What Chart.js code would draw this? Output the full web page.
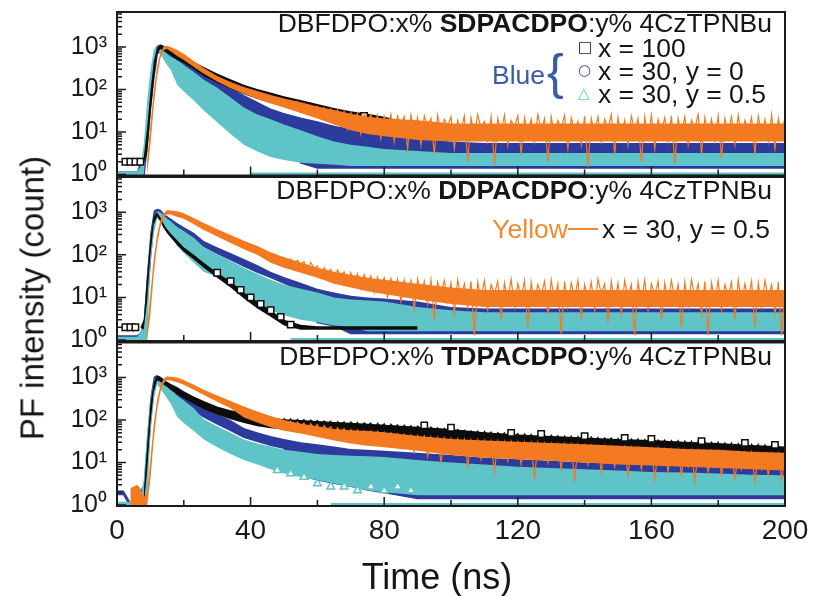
<!DOCTYPE html>
<html>
<head>
<meta charset="utf-8">
<script src="https://cdn.jsdelivr.net/npm/chart.js@4"></script>
<style>
  body { margin: 0; background: #fff; width: 817px; height: 596px; position: relative; overflow: hidden;
         font-family: "Liberation Sans", Arial, sans-serif; }
  canvas { position: absolute; left: 0; }
  .t { position: absolute; white-space: nowrap; font-size: 26.5px; line-height: 26px; color: #151515; }
  .sym { position: absolute; font-family: "DejaVu Sans", sans-serif; font-size: 15px; line-height: 15px; }
</style>
</head>
<body>
<canvas id="p1" width="817" height="190" style="top:0"></canvas>
<canvas id="p2" width="817" height="185" style="top:170px"></canvas>
<canvas id="p3" width="817" height="260" style="top:336px"></canvas>

<!-- panel 1 legend -->
<div class="t" style="right:45px;top:10px">DBFDPO:x% <b>SDPACDPO</b>:y% 4CzTPNBu</div>
<div class="sym" style="left:578px;top:40px;color:#111">□</div>
<div class="t" style="left:598px;top:35px">x = 100</div>
<div class="t" style="right:272px;top:62px;color:#3b5aa8">Blue</div>
<div class="t" style="left:547px;top:47px;font-size:50px;line-height:50px;color:#3b5aa8">{</div>
<div class="sym" style="left:578px;top:63px;color:#2c3b9c">○</div>
<div class="t" style="left:598px;top:58px">x = 30, y = 0</div>
<div class="sym" style="left:578px;top:86px;color:#5ec4c7">△</div>
<div class="t" style="left:598px;top:81px">x = 30, y = 0.5</div>

<!-- panel 2 legend -->
<div class="t" style="right:45px;top:177px">DBFDPO:x% <b>DDPACDPO</b>:y% 4CzTPNBu</div>
<div class="t" style="right:249px;top:216px;color:#f08a30">Yellow</div>
<div style="position:absolute;left:568px;top:228px;width:30px;height:2px;background:#f08a30"></div>
<div class="t" style="left:602px;top:216px">x = 30, y = 0.5</div>

<!-- panel 3 legend -->
<div class="t" style="right:45px;top:343px">DBFDPO:x% <b>TDPACDPO</b>:y% 4CzTPNBu</div>

<!-- axis titles -->
<div class="t" style="left:32px;top:298px;font-size:33px;line-height:33px;transform:translate(-50%,-50%) rotate(-90deg)">PF intensity (count)</div>
<div class="t" style="left:437px;top:577px;font-size:36px;line-height:36px;transform:translate(-50%,-50%)">Time (ns)</div>

<script>
/* ======================
   DATA
====================== */
// coarse envelope grid (ns)
const timeNs = [0, 2, 4, 6, 7, 8, 9, 10, 11, 12, 13, 14, 15, 16, 18, 20,
  23, 26, 30, 34, 38, 42, 46, 50, 55, 60, 65, 70, 75, 80,
  90, 100, 110, 120, 130, 140, 150, 160, 170, 180, 190, 200]

// 1 ns detector bins for the noisy tails, 50..200 ns
const tailNs = Array.from({ length: 151 }, (_, i) => 50 + i)

const xTickValues = [0, 40, 80, 120, 160, 200]
const yTickValues = [1, 10, 100, 1000]
const yTickLabels = ["10⁰", "10¹", "10²", "10³"]
const cyanFloorStartNs = [40, 52, 64]

/* ---------- panel 1: SDPACDPO ---------- */
const p1BlackHi = [2, 2, 2, 2, 2, 2.5, 12, 90, 450, 1000, 1150, 1080, 1000, 900, 750, 620,
  450, 340, 240, 175, 130, 103, 85, 70, 57, 46, 37, 31, 27, 23,
  15, 10, 8, 8, 8, 8, 8, 8, 8, 8, 8, 8]
const p1BlackLo = [2, 2, 2, 2, 2, 1.8, 3, 25, 150, 700, 900, 800, 720, 650, 500, 420,
  300, 210, 145, 105, 78, 60, 48, 40, 30, 24, 18, 15, 12, 9,
  7, 6.5, 6.5, 6.5, 6.5, 6.5, 6.5, 6.5, 6.5, 6.5, 6.5, 6.5]
const p1BlueHi = [1.2, 1.2, 1.2, 1.2, 2, 3, 25, 150, 600, 1100, 1150, 1000, 880, 800, 650, 520,
  380, 260, 160, 110, 75, 52, 36, 28, 22, 18, 14, 12, 10, 9,
  7, 6, 5.5, 5.5, 5.5, 5.5, 5.5, 5.5, 5.5, 5.5, 5.5, 5.5]
const p1BlueLo = [0.95, 0.95, 0.95, 0.95, 0.95, 0.95, 5, 40, 200, 700, 800, 650, 550, 480, 330, 250,
  160, 110, 70, 42, 23, 15, 11, 8, 1.9, 1.45, 1.45, 1.45, 1.45, 1.45,
  1.45, 1.45, 1.45, 1.45, 1.45, 1.45, 1.45, 1.45, 1.45, 1.45, 1.45, 1.45]
const p1CyanHi = [1.2, 1.2, 1.2, 1.2, 1.5, 5, 50, 280, 850, 1150, 1050, 850, 700, 600, 500, 380,
  260, 170, 110, 65, 38, 26, 20, 15, 11, 8, 6, 5, 4.5, 4,
  3.6, 3.2, 3.2, 3.2, 3.2, 3.2, 3.2, 3.2, 3.2, 3.2, 3.2, 3.2]
const p1CyanLo = [0.95, 0.95, 0.95, 0.95, 0.95, 0.95, 8, 60, 300, 900, 700, 500, 380, 300, 130, 90,
  55, 32, 17, 9, 5, 3.5, 2.6, 2.2, 1.9, 1.8, 1.7, 1.6, 1.6, 1.6,
  1.6, 1.6, 1.6, 1.6, 1.6, 1.6, 1.6, 1.6, 1.6, 1.6, 1.6, 1.6]
const p1OrangeHi = [null, null, null, null, null, null, 2, 15, 90, 350, 750, 1050, 1080, 1000, 850, 700,
  470, 320, 210, 150, 115, 92, 75, 62, 50, 40, 33, 27, 23, 21,
  19, 16, 16, 16, 16, 16, 16, 16, 16, 16, 16, 16]
const p1OrangeLo = [null, null, null, null, null, null, 0.95, 5, 40, 200, 550, 850, 900, 800, 620, 500,
  340, 235, 155, 108, 80, 60, 47, 38, 28, 21, 15, 11, 9, 8,
  6.5, 6, 6, 6, 6, 6, 6, 6, 6, 6, 6, 6]
const p1OrangeNoise = [
  55, 38, 50, 34, 52, 30, 46, 28, 42, 33,
  40, 22, 37, 28, 35, 16, 33, 22, 31, 12,
  29, 17, 28, 9, 27, 18, 26, 13, 25, 7,
  24, 12, 26, 6, 24, 15, 23, 4, 25, 10,
  22, 5, 24, 13, 21, 3, 25, 9, 20, 14,
  23, 4, 19, 11, 24, 2, 22, 8, 26, 12,
  18, 6, 23, 1.6, 21, 10, 25, 5, 19, 13,
  24, 3, 22, 9, 20, 6, 26, 11, 21, 2,
  23, 8, 19, 12, 25, 4, 22, 10, 18, 5,
  24, 1.5, 21, 9, 23, 6, 20, 12, 26, 3,
  22, 8, 19, 5, 24, 11, 21, 2, 23, 7,
  25, 4, 20, 10, 22, 6, 24, 1.8, 21, 9,
  23, 5, 19, 12, 26, 3, 22, 8, 20, 6,
  24, 2.5, 21, 10, 23, 5, 25, 7, 19, 11,
  22, 3, 24, 9, 20, 6, 26, 4, 21, 8,
  23]
const p1BlackMarkNs = [2.5, 4, 5.5, 7, 74]
const p1BlackMarkVal = [2, 2, 2, 2, 24]

/* ---------- panel 2: DDPACDPO ---------- */
const p2BlackHi = [2, 2, 2, 2, 2, 3, 30, 250, 800, 1000, 750, 520, 400, 320, 220, 150,
  100, 65, 38, 24, 13, 8, 5, 3, 2.3, 2.1, 2.1, 2.1, 2.1, 2.1,
  2.1, null, null, null, null, null, null, null, null, null, null, null]
const p2BlackLo = [2, 2, 2, 2, 2, 1.75, 8, 100, 500, 800, 600, 420, 320, 260, 170, 118,
  78, 50, 29, 17, 9.5, 5.5, 3.5, 2.2, 1.75, 1.75, 1.75, 1.75, 1.75, 1.75,
  1.75, null, null, null, null, null, null, null, null, null, null, null]
const p2BlueHi = [1.3, 1.3, 1.3, 1.3, 1.5, 3, 40, 350, 1100, 1200, 1150, 950, 820, 720, 560, 450,
  330, 210, 150, 110, 80, 58, 40, 30, 22, 16, 13, 11, 10, 9.5,
  8, 6, 5.5, 5.5, 5.5, 5.5, 5.5, 5.5, 5.5, 5.5, 5.5, 5.5]
const p2BlueLo = [0.95, 0.95, 0.95, 0.95, 0.95, 0.95, 8, 100, 600, 900, 850, 700, 600, 520, 400, 320,
  220, 160, 110, 78, 55, 40, 30, 22, 15, 2.6, 2.2, 1.45, 1.45, 1.45,
  1.45, 1.45, 1.45, 1.45, 1.45, 1.45, 1.45, 1.45, 1.45, 1.45, 1.45, 1.45]
const p2CyanHi = [1.2, 1.2, 1.2, 1.2, 1.5, 2.5, 25, 250, 800, 1050, 1000, 850, 700, 620, 450, 360,
  250, 150, 105, 72, 50, 36, 26, 20, 16, 13, 10, 9, 8.5, 8,
  6, 5, 4.5, 4.5, 4.5, 4.5, 4.5, 4.5, 4.5, 4.5, 4.5, 4.5]
const p2CyanLo = [0.95, 0.95, 0.95, 0.95, 0.95, 0.95, 0.95, 60, 300, 700, 650, 480, 380, 300, 160, 110,
  65, 40, 30, 20, 12, 8, 5, 3.8, 3, 2.6, 2.2, 2, 1.6, 1.6,
  1.6, 1.6, 1.6, 1.6, 1.6, 1.6, 1.6, 1.6, 1.6, 1.6, 1.6, 1.6]
const p2OrangeHi = [null, null, null, null, null, null, 2, 12, 80, 300, 650, 950, 1120, 1100, 1050, 950,
  730, 560, 400, 290, 215, 160, 115, 88, 66, 50, 40, 34, 29, 26,
  21, 17, 15, 15, 15, 15, 15, 15, 15, 15, 15, 15]
const p2OrangeLo = [null, null, null, null, null, null, 0.95, 4, 35, 170, 450, 750, 900, 880, 780, 700,
  520, 380, 270, 190, 135, 100, 65, 50, 38, 29, 21, 17, 14, 12,
  9, 7, 6, 6, 6, 6, 6, 6, 6, 6, 6, 6]
const p2OrangeNoise = [
  90, 55, 80, 50, 75, 60, 70, 42, 66, 48,
  55, 30, 50, 38, 46, 26, 44, 32, 40, 20,
  38, 24, 36, 16, 34, 22, 32, 13, 30, 18,
  29, 10, 28, 15, 27, 8, 26, 13, 25, 5,
  27, 11, 24, 7, 26, 3, 23, 12, 25, 8,
  22, 4, 26, 10, 21, 6, 24, 1.3, 23, 9,
  25, 5, 20, 12, 24, 3, 22, 8, 27, 6,
  21, 10, 25, 2, 23, 7, 20, 11, 24, 4,
  26, 8, 21, 1.4, 24, 6, 22, 10, 25, 3,
  20, 9, 23, 5, 27, 12, 21, 2.5, 24, 7,
  22, 4, 25, 10, 20, 1.3, 23, 8, 26, 5,
  21, 11, 24, 3, 22, 7, 25, 9, 20, 2,
  23, 6, 26, 10, 21, 4, 24, 1.3, 22, 8,
  25, 5, 20, 11, 23, 3, 26, 7, 21, 9,
  24, 2, 22, 6, 25, 10, 20, 4, 23, 1.3,
  22]
const p2BlackMarkNs = [2.5, 4, 5.5, 30, 34, 37, 40, 43, 46, 49, 52]
const p2BlackMarkVal = [2, 2, 2, 38, 24, 15, 10, 7, 5, 3.5, 2.3]

/* ---------- panel 3: TDPACDPO ---------- */
const p3BlackHi = [null, null, null, null, null, 2, 25, 250, 800, 1100, 1050, 900, 800, 720, 600, 480,
  360, 280, 210, 170, 150, 130, 115, 105, 100, 95, 90, 86, 82, 78,
  70, 62, 52, 46, 42, 39, 36, 34, 31, 29, 26, 24]
const p3BlackLo = [null, null, null, null, null, 0.95, 6, 80, 450, 850, 800, 680, 600, 520, 400, 320,
  240, 180, 135, 105, 85, 72, 64, 60, 56, 53, 50, 48, 45, 42,
  36, 31, 27, 24, 22, 20, 18, 16, 15, 14, 13, 12]
const p3BlueHi = [2.2, 2.2, 1.2, 1.2, 2.2, 3, 40, 350, 1050, 1150, 1050, 900, 780, 700, 500, 400,
  280, 185, 140, 100, 65, 52, 42, 36, 30, 27, 24, 21, 20, 19,
  17, 15, 13, 12, 11, 10, 9.5, 9, 8.5, 8, 7.5, 7]
const p3BlueLo = [1.8, 1.8, 0.95, 0.95, 1.8, 1.8, 8, 100, 500, 850, 800, 650, 540, 460, 330, 250,
  170, 120, 83, 58, 40, 32, 26, 22, 5, 4, 3.3, 2.8, 2.3, 2,
  1.45, 1.45, 1.45, 1.45, 1.45, 1.45, 1.45, 1.45, 1.45, 1.45, 1.45, 1.45]
const p3CyanHi = [1.2, 1.2, 1.2, 1.2, 1.5, 4, 50, 300, 850, 1050, 950, 800, 650, 550, 380, 290,
  190, 105, 72, 50, 35, 28, 24, 20, 18, 16, 15, 14.5, 14, 13.5,
  11.5, 10, 9, 8, 7.5, 7, 6.5, 6, 5.8, 5.5, 5.2, 5]
const p3CyanLo = [0.95, 0.95, 0.95, 0.95, 0.95, 0.95, 0.95, 50, 300, 700, 550, 420, 320, 250, 120, 85,
  55, 35, 23, 16, 11.5, 9, 7, 5.5, 4.5, 3.9, 3.2, 2.7, 2.2, 2,
  1.7, 1.7, 1.7, 1.7, 1.7, 1.7, 1.7, 1.7, 1.7, 1.7, 1.7, 1.7]
const p3OrangeHi = [null, null, 2.5, 3, 2.5, 1.5, 2, 12, 80, 300, 650, 950, 1080, 1050, 1000, 880,
  680, 520, 380, 280, 210, 160, 125, 100, 82, 72, 62, 58, 55, 52,
  42, 36, 33, 31, 29, 27, 25, 23, 21, 20, 18, 17]
const p3OrangeLo = [null, null, 0.95, 0.95, 0.95, 0.95, 0.95, 4, 35, 170, 450, 750, 880, 850, 780, 680,
  520, 390, 270, 190, 115, 88, 68, 56, 48, 40, 33, 28, 25, 23,
  19, 15, 13, 12, 11, 10, 9, 8.5, 8, 7.5, 7, 6.5]
const p3OrangeNoise = [
  100, 70, 95, 60, 90, 75, 85, 55, 82, 65,
  78, 50, 74, 60, 70, 42, 66, 52, 63, 38,
  60, 45, 58, 35, 56, 48, 55, 30, 54, 42,
  52, 28, 50, 40, 48, 22, 46, 36, 45, 18,
  43, 30, 42, 14, 40, 26, 39, 10, 38, 24,
  37, 16, 36, 22, 35, 8, 34, 20, 34, 12,
  33, 19, 32, 6, 32, 17, 31, 11, 31, 15,
  30, 9, 30, 16, 29, 4, 29, 14, 28, 10,
  28, 15, 27, 7, 27, 13, 26, 3.5, 26, 12,
  25, 9, 25, 14, 24, 6, 24, 11, 23, 8,
  23, 12, 23, 5, 22, 10, 22, 7, 21, 11,
  21, 4, 21, 9, 20, 6, 20, 10, 20, 5,
  19, 8, 19, 3.5, 19, 9, 18, 6, 18, 8,
  18, 5, 18, 9, 17, 4, 17, 7, 17, 8,
  17, 3.5, 16, 7, 16, 5, 16, 8, 16, 4,
  16]
const p3BlackNoise = [
  112, 80, 108, 75, 104, 90, 102, 70, 100, 85,
  98, 68, 96, 82, 94, 64, 92, 80, 91, 60,
  90, 76, 88, 58, 87, 74, 86, 55, 84, 70,
  82, 52, 80, 66, 78, 50, 76, 64, 74, 48,
  72, 60, 70, 45, 68, 56, 66, 42, 64, 52,
  62, 40, 60, 50, 58, 38, 56, 46, 55, 35,
  54, 44, 52, 33, 51, 42, 50, 31, 49, 40,
  48, 30, 47, 38, 46, 28, 45, 36, 44, 27,
  44, 35, 43, 26, 42, 34, 42, 25, 41, 33,
  40, 24, 40, 32, 39, 23, 38, 31, 38, 22,
  37, 30, 37, 21, 36, 29, 36, 20, 35, 28,
  35, 19, 34, 27, 34, 18, 33, 26, 33, 17,
  32, 25, 32, 16, 31, 24, 31, 15, 30, 23,
  30, 15, 29, 22, 29, 14, 28, 21, 28, 14,
  27, 20, 27, 13, 26, 19, 26, 13, 25, 18,
  25]
const p3BlackMarkNs = [92, 100, 118, 127, 140, 152, 160, 175, 188, 197]
const p3BlackMarkVal = [75, 66, 50, 47, 42, 38, 36, 32, 29, 26]
const p3CyanMarkNs = [48, 52, 56, 60, 64, 68, 72, 76, 80, 84, 88]
const p3CyanMarkVal = [6.6, 5.5, 4.6, 3.2, 2.7, 2.7, 2.2, 2.7, 2.2, 2.7, 2.2]

/* ======================
   STYLE
====================== */
const ORANGE = "#f47a22"
const CYAN = "#5ec4c7"
const BLUE = "#2c3b9c"
const BLACK = "#0d0d0d"
const Y_MIN = 0.95
const Y_MAX = 6700

const pts = (ts, vs) => ts.map((t, i) => ({ x: t, y: vs[i] }))

function band(lo, hi, color, order, loLine) {
  return [
    { data: pts(timeNs, lo), pointRadius: 0, fill: false, order,
      borderWidth: loLine ? 2 : 0, borderColor: color },
    { data: pts(timeNs, hi), pointRadius: 0, fill: "-1", order,
      borderWidth: 0, backgroundColor: color }
  ]
}

function noise(vals, color, width, order) {
  return { data: pts(tailNs, vals), pointRadius: 0, fill: false, order,
    borderWidth: width, borderColor: color }
}

function marks(ts, vals, color, style, order) {
  return { data: pts(ts, vals), showLine: false, pointStyle: style, pointRadius: 4.5,
    pointBorderWidth: 1.5, pointBorderColor: color, pointBackgroundColor: "#fff", order }
}

function floorLine(start, order) {
  return { data: [{ x: start, y: 1 }, { x: 200, y: 1 }], pointRadius: 0, fill: false, order,
    borderWidth: 4, borderColor: CYAN }
}

/* ---------- frame + inward ticks ---------- */
const frameTicks = {
  id: "frameTicks",
  afterDatasetsDraw(chart) {
    const { ctx, chartArea: a, scales: { x, y } } = chart
    ctx.save()
    ctx.strokeStyle = "#1a1a1a"
    ctx.lineWidth = 1.5
    ctx.beginPath()
    for (let t = 0; t <= 200; t += 20) {
      const px = x.getPixelForValue(t)
      const len = t % 40 === 0 ? 9 : 6
      ctx.moveTo(px, a.bottom)
      ctx.lineTo(px, a.bottom - len)
    }
    for (let d = 1; d <= 1000; d *= 10) {
      for (let m = 1; m < 10; m++) {
        const v = d * m
        if (v < Y_MIN || v > Y_MAX) continue
        const py = y.getPixelForValue(v)
        ctx.moveTo(a.left, py)
        ctx.lineTo(a.left + (m === 1 ? 9 : 5), py)
      }
    }
    ctx.stroke()
    ctx.lineWidth = 2
    ctx.strokeRect(a.left, a.top, a.right - a.left, a.bottom - a.top)
    ctx.restore()
  }
}

function makePanel(id, padTop, padBottom, datasets, showX) {
  return new Chart(document.getElementById(id), {
    type: "line",
    data: { datasets },
    options: {
      responsive: false,
      animation: false,
      devicePixelRatio: 1,
      layout: { padding: { top: padTop, bottom: padBottom, left: 0, right: 32 } },
      plugins: { legend: { display: false }, tooltip: { enabled: false } },
      elements: { line: { tension: 0 } },
      scales: {
        x: {
          type: "linear", min: 0, max: 200, display: showX,
          afterFit: s => {
            s.height = showX ? 90 : 0
            s.paddingLeft = 0; s.paddingRight = 0
          },
          afterBuildTicks: s => { s.ticks = xTickValues.map(v => ({ value: v })) },
          ticks: { padding: 8, maxRotation: 0, autoSkip: false, color: "#1a1a1a",
            font: { family: "Liberation Sans", size: 28 } },
          grid: { display: false, drawTicks: false },
          border: { display: false }
        },
        y: {
          type: "logarithmic", min: Y_MIN, max: Y_MAX,
          afterFit: s => {
            s.width = 117
            s.paddingTop = 0; s.paddingBottom = 0
          },
          afterBuildTicks: s => { s.ticks = yTickValues.map(v => ({ value: v })) },
          ticks: {
            padding: 10, autoSkip: false, color: "#1a1a1a",
            font: { family: "Liberation Sans", size: 25 },
            callback: v => yTickLabels[yTickValues.indexOf(v)] ?? ""
          },
          grid: { display: false, drawTicks: false },
          border: { display: false }
        }
      }
    },
    plugins: [frameTicks]
  })
}

/* ======================
   PANELS
====================== */
makePanel("p1", 12, 14.5, [
  ...band(p1BlueLo, p1BlueHi, BLUE, 4, true),
  ...band(p1CyanLo, p1CyanHi, CYAN, 3),
  floorLine(cyanFloorStartNs[0], 3.5),
  ...band(p1BlackLo, p1BlackHi, BLACK, 2),
  marks(p1BlackMarkNs, p1BlackMarkVal, BLACK, "rect", 1.8),
  ...band(p1OrangeLo, p1OrangeHi, ORANGE, 1),
  noise(p1OrangeNoise, ORANGE, 1.2, 0)
], false)

makePanel("p2", 7, 14, [
  ...band(p2BlueLo, p2BlueHi, BLUE, 4, true),
  ...band(p2CyanLo, p2CyanHi, CYAN, 3),
  floorLine(cyanFloorStartNs[1], 3.5),
  ...band(p2BlackLo, p2BlackHi, BLACK, 2),
  marks(p2BlackMarkNs, p2BlackMarkVal, BLACK, "rect", 1.8),
  ...band(p2OrangeLo, p2OrangeHi, ORANGE, 1),
  noise(p2OrangeNoise, ORANGE, 1.2, 0)
], false)

makePanel("p3", 6.5, 0, [
  ...band(p3BlueLo, p3BlueHi, BLUE, 4, true),
  ...band(p3CyanLo, p3CyanHi, CYAN, 3),
  marks(p3CyanMarkNs, p3CyanMarkVal, CYAN, "triangle", 2.9),
  floorLine(cyanFloorStartNs[2], 3.5),
  ...band(p3BlackLo, p3BlackHi, BLACK, 2),
  noise(p3BlackNoise, BLACK, 1.2, 1.5),
  marks(p3BlackMarkNs, p3BlackMarkVal, BLACK, "rect", 1.4),
  ...band(p3OrangeLo, p3OrangeHi, ORANGE, 1),
  noise(p3OrangeNoise, ORANGE, 1.2, 0)
], true)
</script>
</body>
</html>
